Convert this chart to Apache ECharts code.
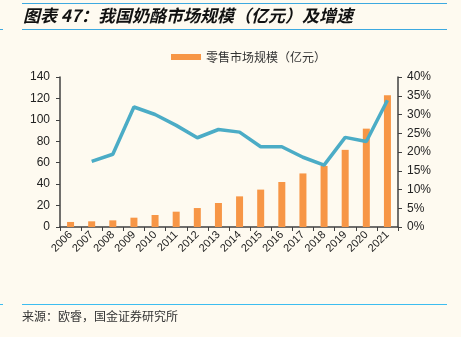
<!DOCTYPE html>
<html><head><meta charset="utf-8">
<script src="https://cdn.jsdelivr.net/npm/echarts@6/dist/echarts.min.js"></script>
<style>html,body{margin:0;padding:0;background:#FEFAF0;}#c{width:461px;height:337px;}</style>
</head><body><div id="c"></div>
<script>
const years = ['2006','2007','2008','2009','2010','2011','2012','2013','2014','2015','2016','2017','2018','2019','2020','2021'];
const marketSize = [4.7, 5.3, 6.2, 8.7, 11.2, 14.3, 17.7, 22.4, 28.6, 34.9, 42.0, 50.0, 57.0, 72.0, 91.8, 123.0];
const growthRate = [null, 17.5, 19.4, 32.0, 30.0, 27.1, 23.8, 26.0, 25.3, 21.4, 21.4, 18.6, 16.5, 23.9, 22.8, 33.8];
const leftTicks = {min: 0, max: 140, interval: 20};
const rightTicks = {min: 0, max: 40, interval: 5};

const chart = echarts.init(document.getElementById('c'), null, {renderer: 'canvas'});
const axisCol = '#404040';
chart.setOption({
  backgroundColor: '#FEFAF0',
  animation: false,
  textStyle: {fontFamily: 'Liberation Sans, Arial, sans-serif'},
  graphic: [
    {type: 'line', shape: {x1: 22, y1: 3.5, x2: 447, y2: 3.5}, style: {stroke: '#3DA9E0', lineWidth: 1}},
    {type: 'line', shape: {x1: 22, y1: 29.5, x2: 447, y2: 29.5}, style: {stroke: '#3DA9E0', lineWidth: 1}},
    {type: 'line', shape: {x1: 0, y1: 29.5, x2: 3, y2: 29.5}, style: {stroke: '#3DA9E0', lineWidth: 1}},
    {type: 'text', left: 23, top: 7, style: {text: '图表 47：我国奶酪市场规模（亿元）及增速', font: 'italic bold 17px "Noto Sans CJK SC", sans-serif', fill: '#111'}},
    {type: 'line', shape: {x1: 22, y1: 304.5, x2: 447, y2: 304.5}, style: {stroke: '#3DBDF0', lineWidth: 1}},
    {type: 'line', shape: {x1: 0, y1: 304.5, x2: 3, y2: 304.5}, style: {stroke: '#3DBDF0', lineWidth: 1}},
    {type: 'text', left: 22, top: 310, style: {text: '来源：欧睿，国金证券研究所', font: '12px "Noto Sans CJK SC", sans-serif', fill: '#333'}}
  ],
  legend: {
    data: ['零售市场规模（亿元）'],
    top: 51, left: 171, padding: 0,
    itemWidth: 30, itemHeight: 6, itemGap: 4,
    textStyle: {fontSize: 12, color: '#333', fontFamily: '"Noto Sans CJK SC", sans-serif'},
    icon: 'rect'
  },
  grid: {left: 60, right: 63, top: 77, bottom: 110},
  xAxis: {
    type: 'category', data: years,
    axisLine: {lineStyle: {color: axisCol, width: 1.5}},
    axisTick: {show: true, length: 4, lineStyle: {color: axisCol}},
    axisLabel: {rotate: 45, fontSize: 11, color: '#222', margin: 6, interval: 0}
  },
  yAxis: [
    {type: 'value', min: leftTicks.min, max: leftTicks.max, interval: leftTicks.interval,
     splitLine: {show: false},
     axisLine: {show: true, lineStyle: {color: axisCol, width: 1.5}},
     axisTick: {show: true, length: 4, lineStyle: {color: axisCol}},
     axisLabel: {fontSize: 12, color: '#222', margin: 10}},
    {type: 'value', min: rightTicks.min, max: rightTicks.max, interval: rightTicks.interval,
     position: 'right', splitLine: {show: false},
     axisLine: {show: true, lineStyle: {color: axisCol, width: 1.5}},
     axisTick: {show: true, length: 4, lineStyle: {color: axisCol}},
     axisLabel: {fontSize: 12, color: '#222', margin: 9, formatter: '{value}%'}}
  ],
  series: [
    {name: '零售市场规模（亿元）', type: 'bar', data: marketSize, yAxisIndex: 0,
     barWidth: 7, itemStyle: {color: '#F79646'}},
    {name: '增速', type: 'line', data: growthRate, yAxisIndex: 1,
     symbol: 'none', lineStyle: {color: '#4BACC6', width: 3.5}, itemStyle: {color: '#4BACC6'}}
  ]
});
</script></body></html>
